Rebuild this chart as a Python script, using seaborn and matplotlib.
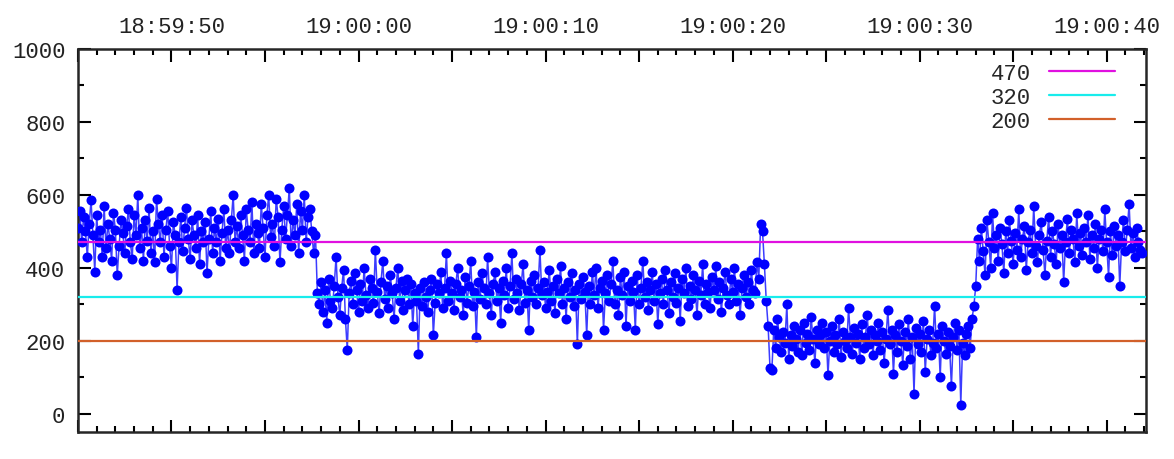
import pandas as pd
import seaborn as sns
import matplotlib.pyplot as plt
import matplotlib.dates as mdates
from matplotlib.ticker import FuncFormatter, MultipleLocator

# sampled values, 10 samples per second starting at 18:59:45
start_time = '2024-01-01 18:59:45'
sample_step = '100ms'

level_470 = [510, 555, 470, 540, 500, 430, 520, 585, 490, 390, 545, 470, 505, 430, 570, 455, 520, 480, 420, 550,
             505, 380, 460, 530, 495, 440, 515, 560, 470, 425, 545, 490, 600, 455, 510, 420, 530, 475, 565, 440,
             500, 415, 590, 520, 470, 545, 430, 505, 555, 460, 400, 525, 490, 340, 470, 540, 445, 510, 565, 480,
             425, 530, 490, 455, 545, 410, 500, 470, 525, 385, 480, 555, 440, 510, 470, 535, 420, 495, 560, 455,
             505, 440, 530, 600, 470, 515, 455, 545, 490, 420, 560, 505, 470, 580, 440, 520, 495, 455, 575, 510,
             430, 545, 600, 485, 520, 460, 590, 540, 415, 505, 570, 480, 545, 620, 460, 530, 490, 575, 440, 555,
             505, 600, 470, 540, 560, 500, 440, 490]

level_320 = [330, 300, 360, 280, 340, 250, 370, 310, 290, 350, 430, 320, 270, 345, 395, 260, 175, 330, 365, 300,
             385, 340, 280, 355, 310, 400, 325, 290, 370, 345, 305, 450, 335, 275, 360, 420, 315, 350, 290, 380,
             330, 260, 345, 400, 310, 365, 285, 340, 370, 300, 355, 240, 330, 310, 165, 345, 295, 360, 320, 280,
             340, 370, 215, 305, 355, 330, 390, 290, 345, 440, 310, 365, 330, 285, 355, 400, 320, 340, 270, 375,
             305, 350, 420, 295, 335, 210, 360, 315, 385, 345, 300, 430, 330, 270, 355, 390, 310, 345, 250, 365,
             325, 400, 290, 350, 440, 315, 370, 330, 285, 355, 410, 305, 340, 230, 365, 320, 380, 300, 345, 450,
             325, 360, 290, 335, 395, 310, 350, 275, 370, 330, 405, 300, 345, 260, 360, 320, 385, 295, 340, 190,
             355, 315, 375, 335, 215, 350, 300, 390, 325, 400, 290, 345, 365, 230, 330, 380, 310, 355, 420, 300,
             340, 270, 375, 325, 390, 240, 350, 310, 365, 335, 230, 380, 300, 345, 420, 320, 360, 285, 340, 390,
             310, 355, 245, 330, 370, 300, 395, 340, 275, 360, 320, 385, 305, 345, 255, 370, 330, 400, 295, 350,
             315, 380, 340, 270, 365, 325, 410, 300, 355, 335, 290, 375, 340, 405, 315, 360, 280, 345, 390, 325,
             300, 370, 335, 400, 310, 355, 270, 345, 380, 320, 360, 300, 395, 340, 330, 415, 370, 520, 500, 410,
             310]

level_200 = [240, 125, 120, 230, 180, 260, 210, 170, 225, 195, 300, 150, 215, 185, 240, 205, 170, 230, 160, 250,
             195, 220, 175, 265, 205, 140, 230, 190, 215, 250, 180, 225, 105, 200, 240, 170, 215, 190, 260, 155,
             225, 200, 180, 290, 210, 165, 235, 195, 220, 150, 245, 180, 210, 270, 190, 230, 160, 215, 200, 250,
             175, 225, 140, 205, 285, 190, 230, 110, 215, 170, 245, 200, 135, 225, 185, 260, 150, 210, 55, 235,
             190, 220, 170, 255, 115, 205, 230, 160, 195, 295, 180, 220, 100, 240, 200, 165, 225, 185, 75, 210,
             250, 175, 230, 25, 195, 160, 220, 240, 180, 260]

level_470b = [295, 350, 480, 420, 510, 445, 380, 530, 470, 400, 550, 455, 490, 420, 510, 465, 385, 500, 440, 530,
              475, 410, 495, 450, 560, 430, 480, 515, 395, 470, 505, 440, 570, 460, 415, 490, 525, 450, 380, 475,
              540, 430, 500, 465, 410, 520, 455, 490, 360, 470, 535, 440, 505, 480, 415, 550, 460, 495, 435, 510,
              470, 545, 425, 490, 455, 520, 400, 480, 505, 445, 560, 470, 375, 500, 435, 515, 460, 490, 350, 470,
              530, 445, 505, 575, 455, 495, 430, 510, 470, 450, 440]

ref_levels = [470, 320, 200]
ref_colors = ['#e010e0', '#18ecec', '#d2602a']

values = level_470 + level_320 + level_200 + level_470b
times = pd.date_range(start_time, periods=len(values), freq=sample_step)
df = pd.DataFrame({'time': times, 'value': values})

sns.set_style('ticks')
plt.rcParams['font.family'] = ['Liberation Mono', 'DejaVu Sans Mono']
plt.rcParams['font.size'] = 16

fig = plt.figure(figsize=(11.74, 4.6), dpi=100)
ax = fig.add_axes([0.0664, 0.0587, 0.9097, 0.8326])

sns.lineplot(data=df, x='time', y='value', ax=ax, color='#1a1aff', linewidth=1.1, alpha=0.85)
sns.scatterplot(data=df, x='time', y='value', ax=ax, color='#0000ff', s=52, linewidth=0, zorder=3)

handles = []
for lvl, col in zip(ref_levels, ref_colors):
    h = ax.axhline(lvl, color=col, linewidth=1.6, zorder=4, label=str(lvl))
    handles.append(h)

ax.set_ylim(-50, 1000)
ax.set_xlim(pd.Timestamp('2024-01-01 18:59:45'), pd.Timestamp('2024-01-01 19:00:42.1'))
ax.yaxis.set_major_locator(MultipleLocator(200))
ax.yaxis.set_minor_locator(MultipleLocator(100))

ax.xaxis.set_major_locator(mdates.SecondLocator(bysecond=range(0, 60, 5)))
ax.xaxis.set_minor_locator(mdates.SecondLocator())


def time_label(x, pos):
    d = pd.Timestamp(mdates.num2date(x)).round('s')
    if d.second % 10 != 0:
        return ''
    return d.strftime('%H:%M:%S')


ax.xaxis.set_major_formatter(FuncFormatter(time_label))

ax.tick_params(which='both', direction='in', top=True, bottom=True, left=True, right=True,
               labeltop=True, labelbottom=False, width=1.5, colors='black', labelcolor='#222222')
ax.tick_params(which='major', length=9, pad=9)
ax.tick_params(which='minor', length=4.5)
for sp in ax.spines.values():
    sp.set_linewidth(1.8)
    sp.set_visible(True)

ax.set_xlabel('')
ax.set_ylabel('')

ax.legend(handles=handles, loc='upper right', frameon=False, markerfirst=False,
          handlelength=3.0, handletextpad=0.8, labelspacing=0.12, fontsize=16,
          bbox_to_anchor=(0.99, 1.015))

fig.savefig('out.png', dpi=100)
